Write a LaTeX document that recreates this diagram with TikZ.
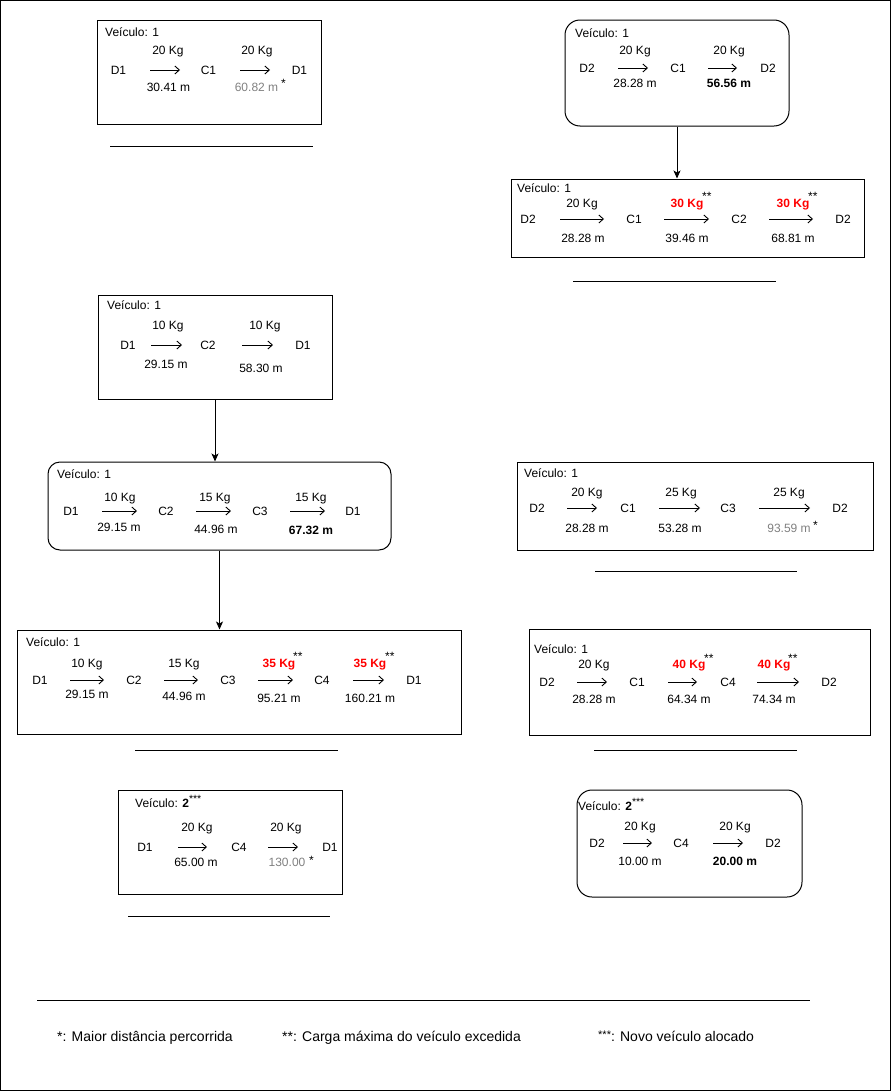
\documentclass[tikz,border=0pt]{standalone}
\usepackage{fontspec}
\setmainfont{Liberation Sans}
\usetikzlibrary{arrows.meta}
\definecolor{gr}{HTML}{808080}
\definecolor{rd}{HTML}{FF0000}
\begin{document}
\begin{tikzpicture}[x=1pt,y=-1pt, font=\fontsize{12}{14}\selectfont,
 t/.style={inner sep=0pt, text height=8.6pt, text depth=0pt},
 lbl/.style={t, anchor=west},
 over/.style={t, text=rd, font=\fontsize{12}{14}\selectfont\bfseries},
 bld/.style={t, font=\fontsize{12}{14}\selectfont\bfseries},
 gry/.style={t, text=gr},
 sup/.style={inner sep=0pt, anchor=base west},
 box/.style={draw, line width=1pt, inner sep=0pt},
 rbox/.style={box, rounded corners=15pt},
 ia/.style={line width=0.9pt, -{Straight Barb[length=4.5pt,width=8pt]}},
 conn/.style={line width=1pt, -{Stealth[length=8pt,width=7pt,inset=2pt]}},
 under/.style={line width=1pt},
 foot/.style={inner sep=0pt, anchor=west, text height=10pt, text depth=0pt, font=\fontsize{14}{16}\selectfont}
]
\useasboundingbox (0,0) rectangle (891,1092);
\draw[line width=1pt] (0.5,0.5) rectangle (890.5,1090.5);

% ---------- boxes ----------
\node[box, minimum width=224pt, minimum height=104pt] (bA) at (209,72) {};
\node[rbox, minimum width=224pt, minimum height=106pt] (bB) at (677,73) {};
\node[box, minimum width=353pt, minimum height=78pt] (bC) at (687.5,218) {};
\node[box, minimum width=234pt, minimum height=104pt] (bD) at (215,347) {};
\node[box, rounded corners=12pt, minimum width=343pt, minimum height=88pt] (bE) at (219.5,506) {};
\node[box, minimum width=444pt, minimum height=104pt] (bF) at (239,682) {};
\node[box, minimum width=224pt, minimum height=104pt] (bG) at (230,842) {};
\node[box, minimum width=356pt, minimum height=88pt] (bH) at (695,506) {};
\node[box, minimum width=341pt, minimum height=106pt] (bI) at (699.5,682) {};
\node[rbox, minimum width=225pt, minimum height=107pt] (bJ) at (689.5,843.5) {};

% connectors
\draw[conn] (bB.south) -- (bB.south |- bC.north);
\draw[conn] (bD.south) -- (bD.south |- bE.north);
\draw[conn] (bE.south) -- (bE.south |- bF.north);

% ---------- box A ----------
\node[lbl] (aV) at (105,32) {Veículo: 1};
\node[t] (aD1) at (118.5,70) {D1};
\node[t] (aK1) at (168,50) {20 Kg};
\node[t] (aC1) at (208.5,70) {C1};
\node[t] (aK2) at (257,50) {20 Kg};
\node[t] (aD2) at (299.5,70) {D1};
\node[t] (aM1) at (168.5,87) {30.41 m};
\node[gry] (aM2) at (256.5,87) {60.82 m};
\node[sup] (aS) at (281,87) {*};
\draw[ia] (150,70) -- (180,70);
\draw[ia] (240,70) -- (270,70);
\draw[under] (110,146) -- (313,146);

% ---------- box B ----------
\node[lbl] (bV) at (575,33) {Veículo: 1};
\node[t] (bD1) at (587,68) {D2};
\node[t] (bK1) at (635,50) {20 Kg};
\node[t] (bC1) at (678,68) {C1};
\node[t] (bK2) at (729,50) {20 Kg};
\node[t] (bD2) at (768,68) {D2};
\node[t] (bM1) at (635,83) {28.28 m};
\node[bld] (bM2) at (729,83) {56.56 m};
\draw[ia] (618,68) -- (648,68);
\draw[ia] (708,68) -- (737,68);

% ---------- box C ----------
\node[lbl] (cV) at (517,188) {Veículo: 1};
\node[t] (cD1) at (528,219) {D2};
\node[t] (cK1) at (582,203) {20 Kg};
\node[t] (cC1) at (634,219) {C1};
\node[over] (cK2) at (687,203) {30 Kg};
\node[sup] (cS2) at (702,200) {**};
\node[t] (cC2) at (739,219) {C2};
\node[over] (cK3) at (793,203) {30 Kg};
\node[sup] (cS3) at (808,200) {**};
\node[t] (cD2) at (843,219) {D2};
\node[t] (cM1) at (583,238) {28.28 m};
\node[t] (cM2) at (687,238) {39.46 m};
\node[t] (cM3) at (793,238) {68.81 m};
\draw[ia] (560,219) -- (604,219);
\draw[ia] (664,219) -- (709,219);
\draw[ia] (769,219) -- (813,219);
\draw[under] (573,281) -- (776,281);

% ---------- box D ----------
\node[lbl] (dV) at (107,305) {Veículo: 1};
\node[t] (dD1) at (128,345) {D1};
\node[t] (dK1) at (168,325) {10 Kg};
\node[t] (dC2) at (208,345) {C2};
\node[t] (dK2) at (265,325) {10 Kg};
\node[t] (dD2) at (303,345) {D1};
\node[t] (dM1) at (166,364) {29.15 m};
\node[t] (dM2) at (261,368) {58.30 m};
\draw[ia] (151,345) -- (182,345);
\draw[ia] (242,345) -- (273,345);

% ---------- box E ----------
\node[lbl] (eV) at (57,474) {Veículo: 1};
\node[t] (eD1) at (71,511) {D1};
\node[t] (eK1) at (120,497) {10 Kg};
\node[t] (eC2) at (166,511) {C2};
\node[t] (eK2) at (215,497) {15 Kg};
\node[t] (eC3) at (260,511) {C3};
\node[t] (eK3) at (311,497) {15 Kg};
\node[t] (eD2) at (353,511) {D1};
\node[t] (eM1) at (119,527) {29.15 m};
\node[t] (eM2) at (216,529) {44.96 m};
\node[bld] (eM3) at (311,530) {67.32 m};
\draw[ia] (102,511) -- (137,511);
\draw[ia] (196,511) -- (231,511);
\draw[ia] (290,511) -- (325,511);

% ---------- box F ----------
\node[lbl] (fV) at (26,642) {Veículo: 1};
\node[t] (fD1) at (40,680) {D1};
\node[t] (fK1) at (87,663) {10 Kg};
\node[t] (fC2) at (134,680) {C2};
\node[t] (fK2) at (184,663) {15 Kg};
\node[t] (fC3) at (228,680) {C3};
\node[over] (fK3) at (279,663) {35 Kg};
\node[sup] (fS3) at (293,660) {**};
\node[t] (fC4) at (322,680) {C4};
\node[over] (fK4) at (370,663) {35 Kg};
\node[sup] (fS4) at (385,660) {**};
\node[t] (fD2) at (414,680) {D1};
\node[t] (fM1) at (87,694) {29.15 m};
\node[t] (fM2) at (184,696) {44.96 m};
\node[t] (fM3) at (279,698) {95.21 m};
\node[t] (fM4) at (370,698) {160.21 m};
\draw[ia] (70,680) -- (104,680);
\draw[ia] (164,680) -- (198,680);
\draw[ia] (258,680) -- (293,680);
\draw[ia] (353,680) -- (384,680);
\draw[under] (135,750) -- (338,750);

% ---------- box G ----------
\node[lbl] (gV) at (135,803) {Veículo: \textbf{2}\raisebox{5pt}{\fontsize{10.5}{12}\selectfont ***}};
\node[t] (gD1) at (145,847) {D1};
\node[t] (gK1) at (197,827) {20 Kg};
\node[t] (gC4) at (239,847) {C4};
\node[t] (gK2) at (286,827) {20 Kg};
\node[t] (gD2) at (330,847) {D1};
\node[t] (gM1) at (196,862) {65.00 m};
\node[gry] (gM2) at (287,862) {130.00};
\node[sup] (gS) at (309,864) {*};
\draw[ia] (178,847) -- (207,847);
\draw[ia] (268,847) -- (298,847);
\draw[under] (128,916) -- (330,916);

% ---------- box H ----------
\node[lbl] (hV) at (524,473) {Veículo: 1};
\node[t] (hD1) at (537,508) {D2};
\node[t] (hK1) at (587,492) {20 Kg};
\node[t] (hC1) at (628,508) {C1};
\node[t] (hK2) at (681,492) {25 Kg};
\node[t] (hC3) at (728,508) {C3};
\node[t] (hK3) at (789,492) {25 Kg};
\node[t] (hD2) at (840,508) {D2};
\node[t] (hM1) at (587,528) {28.28 m};
\node[t] (hM2) at (680,528) {53.28 m};
\node[gry] (hM3) at (789,528) {93.59 m};
\node[sup] (hS) at (813,529) {*};
\draw[ia] (567,508) -- (597,508);
\draw[ia] (659,508) -- (700,508);
\draw[ia] (759,508) -- (810,508);
\draw[under] (595,571) -- (797,571);

% ---------- box I ----------
\node[lbl] (iV) at (534,649) {Veículo: 1};
\node[t] (iD1) at (547,682) {D2};
\node[t] (iK1) at (594,664) {20 Kg};
\node[t] (iC1) at (637,682) {C1};
\node[over] (iK2) at (689,664) {40 Kg};
\node[sup] (iS2) at (704,662) {**};
\node[t] (iC4) at (728,682) {C4};
\node[over] (iK3) at (774,664) {40 Kg};
\node[sup] (iS3) at (788,662) {**};
\node[t] (iD2) at (829,682) {D2};
\node[t] (iM1) at (594,699) {28.28 m};
\node[t] (iM2) at (689,699) {64.34 m};
\node[t] (iM3) at (774,699) {74.34 m};
\draw[ia] (577,682) -- (607,682);
\draw[ia] (668,682) -- (697,682);
\draw[ia] (757,682) -- (799,682);
\draw[under] (594,750) -- (797,750);

% ---------- box J ----------
\node[lbl] (jV) at (578,806) {Veículo: \textbf{2}\raisebox{5pt}{\fontsize{10.5}{12}\selectfont ***}};
\node[t] (jD1) at (597,843) {D2};
\node[t] (jK1) at (640,826) {20 Kg};
\node[t] (jC4) at (681,843) {C4};
\node[t] (jK2) at (735,826) {20 Kg};
\node[t] (jD2) at (773,843) {D2};
\node[t] (jM1) at (640,861) {10.00 m};
\node[bld] (jM2) at (735,861) {20.00 m};
\draw[ia] (623,843) -- (652,843);
\draw[ia] (713,843) -- (743,843);

% ---------- footer ----------
\draw[under] (37,1000) -- (810,1000);
\node[foot] (n1) at (57,1036) {*: Maior distância percorrida};
\node[foot] (n2) at (282,1036) {**: Carga máxima do veículo excedida};
\node[foot] (n3) at (598,1036) {\raisebox{3pt}{\fontsize{11}{12}\selectfont ***}: Novo veículo alocado};
\end{tikzpicture}
\end{document}
